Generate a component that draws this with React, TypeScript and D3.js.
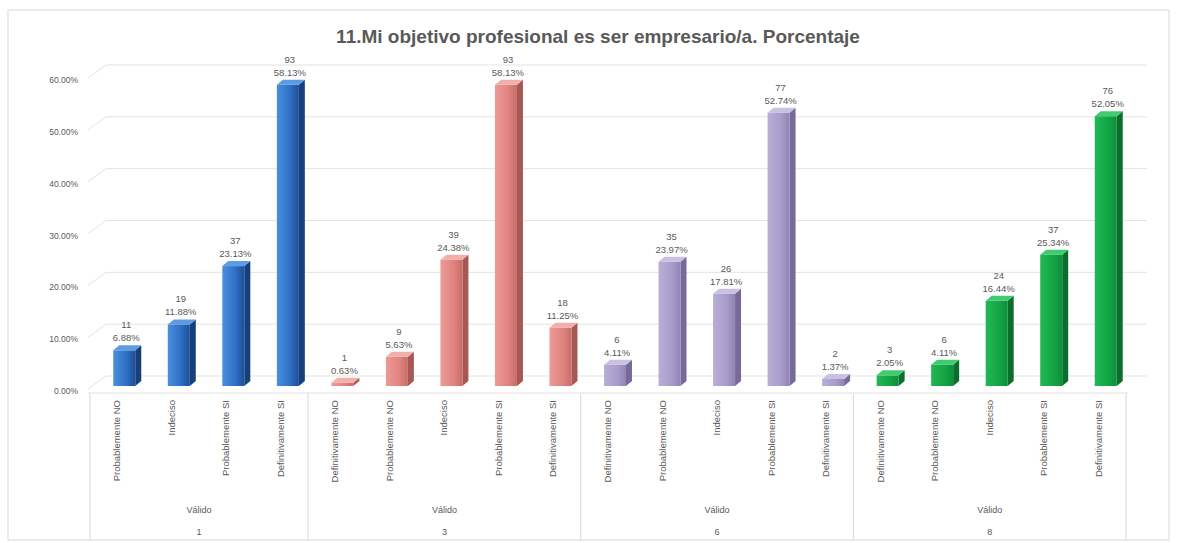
import React from "react";
import * as d3 from "d3";

const title = "11.Mi objetivo profesional es ser empresario/a. Porcentaje";
const groupLabels = ["1", "3", "6", "8"];
const groupLevel = "Válido";
const groupCategories: string[][] = [
  ["Probablemente NO", "Indeciso", "Probablemente SI", "Definitivamente SI"],
  ["Definitivamente NO", "Probablemente NO", "Indeciso", "Probablemente SI", "Definitivamente SI"],
  ["Definitivamente NO", "Probablemente NO", "Indeciso", "Probablemente SI", "Definitivamente SI"],
  ["Definitivamente NO", "Probablemente NO", "Indeciso", "Probablemente SI", "Definitivamente SI"],
];
const groupCounts: number[][] = [
  [11, 19, 37, 93],
  [1, 9, 39, 93, 18],
  [6, 35, 26, 77, 2],
  [3, 6, 24, 37, 76],
];
const groupPercents: number[][] = [
  [6.88, 11.88, 23.13, 58.13],
  [0.63, 5.63, 24.38, 58.13, 11.25],
  [4.11, 23.97, 17.81, 52.74, 1.37],
  [2.05, 4.11, 16.44, 25.34, 52.05],
];
const yTicks = [0, 10, 20, 30, 40, 50, 60];

const palettes = [
  { light: "#4A90DE", front: "#2E6FC4", dark: "#1D4F96", side: "#173F7A", top: "#5C9CE4" },
  { light: "#EC9A96", front: "#E08480", dark: "#C86C68", side: "#A65855", top: "#F2AEAA" },
  { light: "#B8AED6", front: "#A99DCB", dark: "#9184B6", side: "#776A98", top: "#C9C0E2" },
  { light: "#22B855", front: "#13A545", dark: "#0E8E3A", side: "#0B6E2D", top: "#3FCB6E" },
];

type Item = { g: number; cat: string; count: number; pct: number };
const items: Item[] = [];
groupCategories.forEach((cats, g) =>
  cats.forEach((cat, j) =>
    items.push({ g, cat, count: groupCounts[g][j], pct: groupPercents[g][j] })
  )
);

export default function App() {
  const W = 1177;
  const H = 543;
  const x = d3
    .scaleBand<number>()
    .domain(d3.range(items.length))
    .range([90, 1126])
    .padding(0);
  const bw = x.bandwidth();
  const y = d3.scaleLinear().domain([0, 60]).range([386, 75]);
  const font = "'Liberation Sans', Arial, sans-serif";
  const txt = "#595959";
  const barW = 22;
  const dx = 6;
  const dy = 5;

  const bounds: number[] = [];
  let acc = 0;
  bounds.push(x(0)!);
  groupCategories.forEach((c) => {
    acc += c.length;
    bounds.push(x(acc - 1)! + bw);
  });

  return (
    <svg
      width={W}
      height={H}
      style={{ position: "absolute", left: 0, top: 0, background: "#fff" }}
    >
      <defs>
        {palettes.map((p, i) => (
          <linearGradient key={i} id={`fg${i}`} x1="0" x2="1" y1="0" y2="0">
            <stop offset="0%" stopColor={p.light} />
            <stop offset="60%" stopColor={p.front} />
            <stop offset="100%" stopColor={p.dark} />
          </linearGradient>
        ))}
      </defs>
      <rect x={8} y={10} width={1161} height={530} fill="#fff" stroke="#d9d9d9" />
      <text
        x={598}
        y={43}
        textAnchor="middle"
        fontFamily={font}
        fontWeight="bold"
        fontSize={19}
        fill="#595959"
      >
        {title}
      </text>
      {yTicks.map((t) => {
        const yy = y(t);
        return (
          <g key={t}>
            <path
              d={`M88,${yy + 3} L106,${yy - 10} L1147,${yy - 10}`}
              fill="none"
              stroke="#e3e3e3"
              strokeWidth={1}
            />
            <text
              x={78}
              y={yy + 8}
              textAnchor="end"
              fontFamily={font}
              fontSize={8.5}
              fill={txt}
            >
              {t.toFixed(2) + "%"}
            </text>
          </g>
        );
      })}
      <line x1={88} x2={1128} y1={393} y2={393} stroke="#e0e0e0" />
      {items.map((d, i) => {
        const p = palettes[d.g];
        const x0 = x(i)! + bw / 2 - 4;
        const yt = y(d.pct);
        const yb = y(0);
        return (
          <g key={i}>
            <polygon
              points={`${x0 + barW},${yt} ${x0 + barW + dx},${yt - dy} ${x0 + barW + dx},${yb - dy} ${x0 + barW},${yb}`}
              fill={p.side}
            />
            <rect x={x0} y={yt} width={barW} height={yb - yt} fill={`url(#fg${d.g})`} />
            <polygon
              points={`${x0},${yt} ${x0 + dx},${yt - dy} ${x0 + barW + dx},${yt - dy} ${x0 + barW},${yt}`}
              fill={p.top}
            />
            <text
              x={x0 + barW / 2 + 2}
              y={yt - 22}
              textAnchor="middle"
              fontFamily={font}
              fontSize={9.5}
              fill={txt}
            >
              {d.count}
            </text>
            <text
              x={x0 + barW / 2 + 2}
              y={yt - 9}
              textAnchor="middle"
              fontFamily={font}
              fontSize={9.5}
              fill={txt}
            >
              {d.pct.toFixed(2) + "%"}
            </text>
            <text
              transform={`translate(${x(i)! + bw / 2 + 3},400) rotate(-90)`}
              textAnchor="end"
              fontFamily={font}
              fontSize={9.5}
              fill={txt}
            >
              {d.cat}
            </text>
          </g>
        );
      })}
      {bounds.map((b, i) => (
        <line key={i} x1={b} x2={b} y1={393} y2={540} stroke="#d9d9d9" />
      ))}
      {groupLabels.map((g, i) => {
        const cx = (bounds[i] + bounds[i + 1]) / 2;
        return (
          <g key={i}>
            <text x={cx} y={513} textAnchor="middle" fontFamily={font} fontSize={9} fill={txt}>
              {groupLevel}
            </text>
            <text x={cx} y={535} textAnchor="middle" fontFamily={font} fontSize={9} fill={txt}>
              {g}
            </text>
          </g>
        );
      })}
    </svg>
  );
}
